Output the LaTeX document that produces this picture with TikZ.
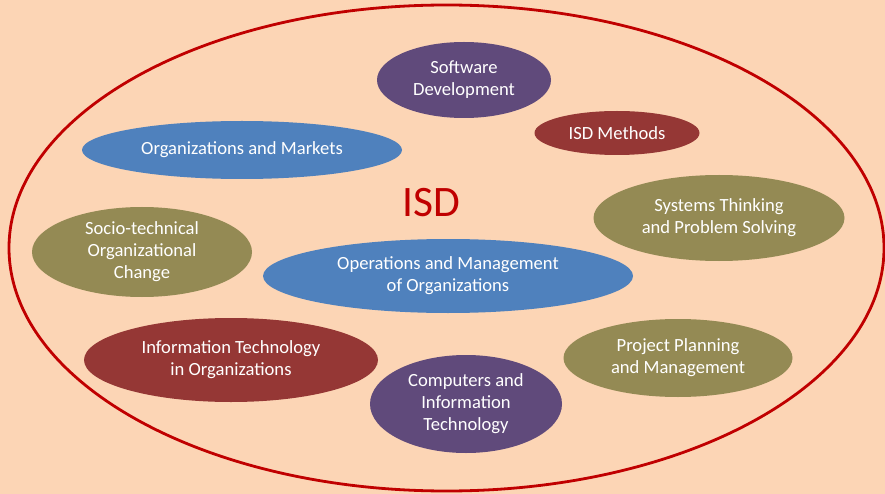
\documentclass[tikz,border=0pt]{standalone}
\usepackage{fontspec}
\setmainfont{Carlito}
\usetikzlibrary{shapes.geometric}
\definecolor{bgpeach}{HTML}{FCD5B5}
\definecolor{ringred}{HTML}{C00000}
\definecolor{cpurple}{HTML}{604A7B}
\definecolor{cblue}{HTML}{4F81BD}
\definecolor{cdred}{HTML}{953735}
\definecolor{colive}{HTML}{948A54}
\tikzset{
  topic/.style={ellipse, draw=none, inner sep=0pt, text=white, align=center,
    font=\fontsize{18.6}{22}\selectfont},
  purp/.style={topic, fill=cpurple},
  blu/.style={topic, fill=cblue},
  dred/.style={topic, fill=cdred},
  oliv/.style={topic, fill=colive},
}
\begin{document}
\begin{tikzpicture}[x=1pt,y=-1pt]
\fill[bgpeach] (0,0) rectangle (885,494);
\useasboundingbox (0,0) rectangle (885,494);
\node[ellipse, draw=ringred, line width=2.8pt, minimum width=875, minimum height=486, inner sep=0pt] (ring) at (446.5,248) {};
\node[text=ringred, font=\fontsize{43.5}{46}\selectfont, inner sep=0pt] (isd) at (431,203) {ISD};
\node[purp, minimum width=174, minimum height=76] (sw) at (464,80) {Software\\Development};
\node[dred, minimum width=165, minimum height=44] (meth) at (617,133) {ISD Methods};
\node[blu, minimum width=320, minimum height=58] (orgm) at (242,150) {Organizations and Markets};
\node[oliv, minimum width=251, minimum height=86] (sys) at (719,218) {Systems Thinking\\and Problem Solving};
\node[oliv, minimum width=220, minimum height=90] (soc) at (142,252) {Socio-technical\\Organizational\\Change};
\node[blu, minimum width=370, minimum height=74] (ops) at (448,276) {Operations and Management\\of Organizations};
\node[dred, minimum width=294, minimum height=84] (it) at (231,360) {Information Technology\\in Organizations};
\node[oliv, minimum width=229, minimum height=78] (pp) at (678,358) {Project Planning\\and Management};
\node[purp, minimum width=192, minimum height=98] (comp) at (466,404) {Computers and\\Information\\Technology};
\end{tikzpicture}
\end{document}
